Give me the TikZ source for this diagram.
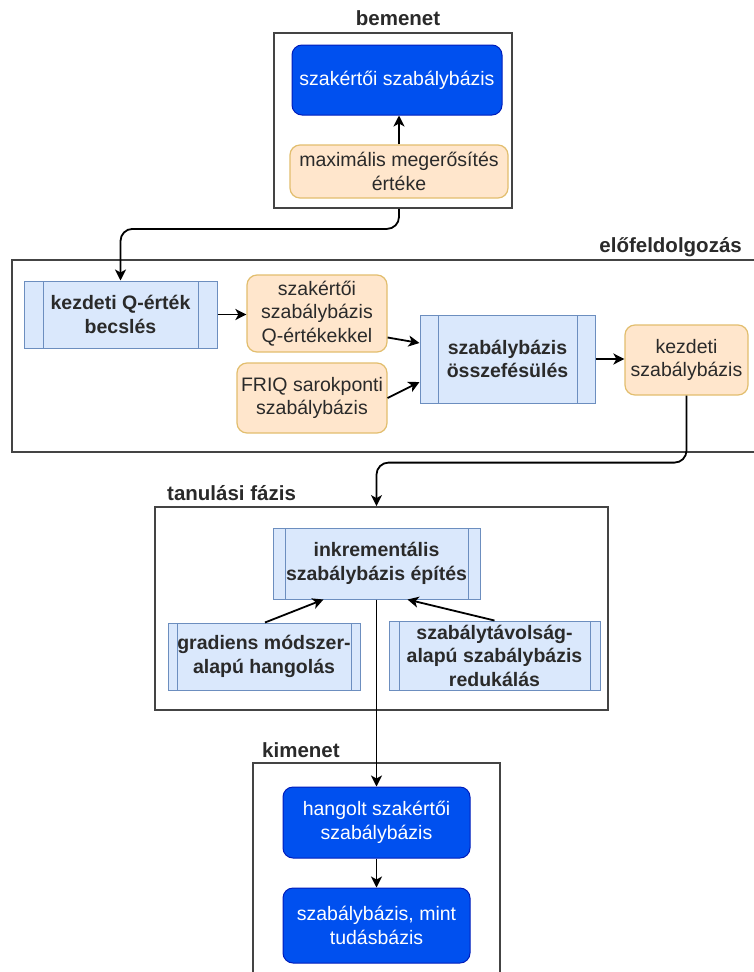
\documentclass[tikz,border=0pt]{standalone}
\usepackage{fontspec}
\setmainfont{Liberation Sans}
\usetikzlibrary{arrows.meta,calc}
\definecolor{bluefill}{HTML}{0050EF}
\definecolor{bluestroke}{HTML}{001DBC}
\definecolor{orfill}{HTML}{FFE6CC}
\definecolor{orstroke}{HTML}{E2BE6E}
\definecolor{prfill}{HTML}{DAE8FC}
\definecolor{prstroke}{HTML}{6C8EBF}
\definecolor{frame}{HTML}{444444}
\definecolor{txt}{HTML}{2A2A2A}
\tikzset{
  base/.style={font=\fontsize{19.5}{23.5}\selectfont, align=center, inner sep=0pt},
  bluebox/.style={base, draw=bluestroke, fill=bluefill, text=white, rounded corners=10pt, line width=1pt},
  orbox/.style={base, draw=orstroke, fill=orfill, text=txt, rounded corners=10pt, line width=1.2pt},
  proc/.style={base, font=\fontsize{19.5}{23.5}\selectfont\bfseries, draw=prstroke, fill=prfill, text=txt, line width=1pt,
    path picture={\draw[prstroke,line width=1pt]
      ([xshift=#1]path picture bounding box.north west) -- ([xshift=#1]path picture bounding box.south west)
      ([xshift=-#1]path picture bounding box.north east) -- ([xshift=-#1]path picture bounding box.south east);}},
  container/.style={draw=frame, fill=white, line width=1.8pt, inner sep=0pt},
  title/.style={font=\fontsize{20.5}{24}\selectfont\bfseries, text=txt, inner sep=0pt},
  arr/.style={draw=black, line width=1.8pt, -{Stealth[length=11pt,width=11pt,inset=3pt]}},
}
\begin{document}
\begin{tikzpicture}[x=1pt,y=-1pt]
\useasboundingbox (0,0) rectangle (753,972);
% containers
\node[container, minimum width=238, minimum height=175] (bin) at (393,120.5) {};
\node[container, minimum width=748, minimum height=192] (pre) at (386,356) {};
\node[container, minimum width=453, minimum height=203] (learn) at (381.5,608.5) {};
\node[container, minimum width=247, minimum height=227] (out) at (376.5,876.5) {};
% titles
\node[title] (tbin) at (398,18) {bemenet};
\node[title, anchor=east] (tpre) at (742,247) {előfeldolgozás};
\node[title, anchor=west] (tlearn) at (167,493) {tanulási fázis};
\node[title, anchor=west] (tout) at (262,750) {kimenet};
% bemenet
\node[bluebox, minimum width=210, minimum height=70] (szr) at (397,80) {szakértői szabálybázis};
\node[orbox, minimum width=218, minimum height=53] (maxe) at (399,171.5) {maximális megerősítés\\értéke};
% előfeldolgozás
\node[proc=19pt, minimum width=193, minimum height=67] (kq) at (120.5,314.5) {kezdeti Q-érték\\becslés};
\node[orbox, minimum width=140, minimum height=77] (sq) at (317,313.5) {szakértői\\szabálybázis\\Q-értékekkel};
\node[orbox, minimum width=150, minimum height=70] (friq) at (312,398) {FRIQ sarokponti\\szabálybázis};
\node[proc=18pt, minimum width=175, minimum height=88] (osz) at (507.5,359) {szabálybázis\\összefésülés};
\node[orbox, minimum width=123, minimum height=70] (ksz) at (686.5,360) {kezdeti\\szabálybázis};
% tanulási fázis
\node[proc=12pt, minimum width=207, minimum height=71] (ink) at (376.5,563.5) {inkrementális\\szabálybázis építés};
\node[proc=9pt, minimum width=192, minimum height=67] (grad) at (264,656.5) {gradiens módszer-\\alapú hangolás};
\node[proc=10pt, minimum width=211, minimum height=69] (szt) at (494.5,655.5) {szabálytávolság-\\alapú szabálybázis\\redukálás};
% kimenet
\node[bluebox, minimum width=187, minimum height=71] (hang) at (376.5,822.5) {hangolt szakértői\\szabálybázis};
\node[bluebox, minimum width=187, minimum height=75] (tud) at (376.5,925.5) {szabálybázis, mint\\tudásbázis};
% connectors
\draw[arr] (maxe.north) -- (maxe.north |- szr.south);
\draw[arr, rounded corners=12pt] (maxe.south |- bin.south) -- ++(0,20) -| (kq.north);
\draw[arr] (kq.east) -- (kq.east -| sq.west);
\draw[arr] ([yshift=-24pt]sq.east) -- ([yshift=16pt]osz.west);
\draw[arr] (friq.east) -- ([yshift=-23pt]osz.west);
\draw[arr] (osz.east) -- (osz.east -| ksz.west);
\draw[arr, rounded corners=12pt] (ksz.south) -- ++(0,67) -| (ink.north |- learn.north);
\draw[arr] ([xshift=1pt]grad.north) -- ([xshift=-53pt]ink.south);
\draw[arr] (szt.north) -- ([xshift=31pt]ink.south);
\draw[arr] (ink.south) -- (hang.north);
\draw[arr] (hang.south) -- (tud.north);
\end{tikzpicture}
\end{document}
